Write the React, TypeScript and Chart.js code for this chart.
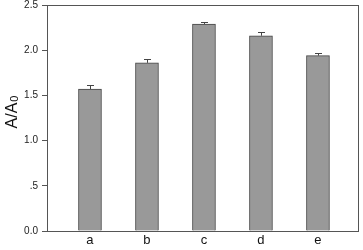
import React, { useEffect, useRef } from "react";
import { Chart, registerables } from "chart.js";

Chart.register(...registerables);

const categories = ["a", "b", "c", "d", "e"];
const values = [1.57, 1.86, 2.29, 2.16, 1.94];
const errors = [0.04, 0.045, 0.025, 0.04, 0.025];
const yTickValues = [0, 0.5, 1.0, 1.5, 2.0, 2.5];
const yTickLabels = ["0.0", ".5", "1.0", "1.5", "2.0", "2.5"];

const FONT = "'Liberation Sans', Arial, sans-serif";

const errorBarPlugin = {
  id: "errorBars",
  afterDatasetsDraw(chart: any) {
    const ctx = chart.ctx;
    const meta = chart.getDatasetMeta(0);
    const y = chart.scales.y;
    ctx.save();
    ctx.strokeStyle = "#444";
    ctx.lineWidth = 1;
    meta.data.forEach((el: any, i: number) => {
      const x = Math.round(el.x) + 0.5;
      const y0 = el.y;
      const y1 = Math.round(y.getPixelForValue(values[i] + errors[i])) + 0.5;
      ctx.beginPath();
      ctx.moveTo(x, y0);
      ctx.lineTo(x, y1);
      ctx.moveTo(x - 3.5, y1);
      ctx.lineTo(x + 3.5, y1);
      ctx.stroke();
    });
    ctx.restore();
  },
};

const framePlugin = {
  id: "frame",
  afterDraw(chart: any) {
    const { ctx, chartArea } = chart;
    ctx.save();
    ctx.strokeStyle = "#555";
    ctx.lineWidth = 1;
    ctx.strokeRect(
      Math.round(chartArea.left) + 0.5,
      Math.round(chartArea.top) + 0.5,
      Math.round(chartArea.right - chartArea.left) - 1,
      Math.round(chartArea.bottom - chartArea.top)
    );
    // y-axis title with subscript
    ctx.fillStyle = "#111";
    ctx.translate(17, 112);
    ctx.rotate(-Math.PI / 2);
    const main = "A/A";
    ctx.font = `16px ${FONT}`;
    const w1 = ctx.measureText(main).width;
    ctx.font = `11px ${FONT}`;
    const w2 = ctx.measureText("0").width;
    const total = w1 + w2 + 1;
    ctx.textBaseline = "alphabetic";
    ctx.textAlign = "left";
    ctx.font = `16px ${FONT}`;
    ctx.fillText(main, -total / 2, 0);
    ctx.font = `11px ${FONT}`;
    ctx.fillText("0", -total / 2 + w1 + 1, 1);
    ctx.restore();
  },
};

export default function App() {
  const ref = useRef<HTMLCanvasElement>(null);
  useEffect(() => {
    if (!ref.current) return;
    const chart = new Chart(ref.current, {
      type: "bar",
      data: {
        datasets: [
          {
            data: values.map((v, i) => ({ x: i, y: v })),
            backgroundColor: "#999999",
            borderColor: "#444",
            borderWidth: 1,
            barThickness: 23,
          } as any,
        ],
      },
      options: {
        animation: false,
        responsive: false,
        maintainAspectRatio: false,
        layout: { padding: { top: 0, right: 4, left: 0, bottom: 0 } },
        plugins: { legend: { display: false }, tooltip: { enabled: false } },
        scales: {
          x: {
            type: "linear",
            offset: false,
            min: -0.754,
            max: 4.72,
            grid: { display: false, drawTicks: false, offset: false },
            border: { display: false },
            afterBuildTicks: (s: any) => {
              s.ticks = categories.map((_, i) => ({ value: i }));
            },
            afterFit: (s: any) => {
              s.height = 19;
            },
            ticks: {
              padding: 2,
              color: "#111",
              font: { family: FONT, size: 13 },
              callback: (v: any) => categories[v as number] ?? "",
              maxRotation: 0,
              autoSkip: false,
            },
          },
          y: {
            min: 0,
            max: 2.5,
            grid: {
              display: true,
              drawOnChartArea: false,
              drawTicks: true,
              tickLength: 5,
              color: "#555",
            },
            border: { display: false },
            afterBuildTicks: (s: any) => {
              s.ticks = yTickValues.map((v) => ({ value: v }));
            },
            afterFit: (s: any) => {
              s.width = 47;
              s.paddingTop = 5;
            },
            ticks: {
              padding: 4,
              color: "#222",
              font: { family: FONT, size: 10 },
              callback: (v: any) => {
                const idx = yTickValues.findIndex((t) => Math.abs(t - v) < 1e-6);
                return idx >= 0 ? yTickLabels[idx] : "";
              },
            },
          },
        },
      },
      plugins: [errorBarPlugin, framePlugin],
    });
    return () => chart.destroy();
  }, []);
  return (
    <div style={{ position: "fixed", left: 0, top: 0, width: 363, height: 250, background: "#fff" }}>
      <canvas ref={ref} width={363} height={250} style={{ display: "block" }} />
    </div>
  );
}
